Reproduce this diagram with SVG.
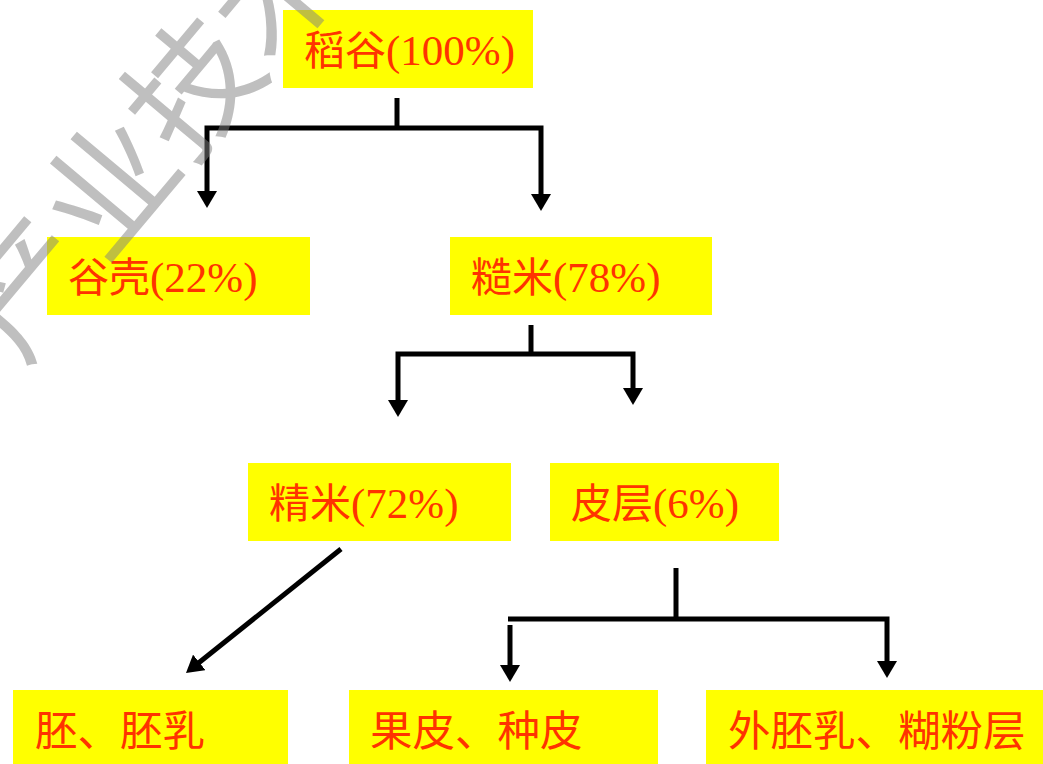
<svg xmlns="http://www.w3.org/2000/svg" width="1043" height="764" viewBox="0 0 1043 764">
  <defs>
    <marker id="ah" markerUnits="userSpaceOnUse" markerWidth="17" markerHeight="20" viewBox="0 0 17 20" refX="7" refY="10" orient="auto-start-reverse">
      <path d="M0,0 L17,10 L0,20 z" fill="#000"/>
    </marker>
    <style>
      .box { fill: #FFFF00; }
      .lbl { fill: #FF3300; font-family: "Noto Sans CJK SC", "Liberation Serif", serif; font-size: 41px; }
      .big { font-size: 42.5px; }
      .lat { font-family: "Liberation Serif", serif; font-size: 43px; }
      .cn { fill: none; stroke: #000; stroke-width: 5; stroke-linejoin: miter; }
      .wm { fill: #808080; fill-opacity: 0.5; font-family: "Noto Sans CJK SC", sans-serif; font-size: 130px; }
    </style>
  </defs>
  <rect width="1043" height="764" fill="#fff"/>

  <g id="connectors">
    <path class="cn" d="M397,98 V128"/>
    <path class="cn" d="M207,198 V128 H541 V201" marker-start="url(#ah)" marker-end="url(#ah)"/>
    <path class="cn" d="M531,325 V354"/>
    <path class="cn" d="M398,407 V354 H633 V395" marker-start="url(#ah)" marker-end="url(#ah)"/>
    <path class="cn" d="M676,568 V619"/>
    <path class="cn" d="M508,619 H887 V668" marker-end="url(#ah)"/>
    <path class="cn" d="M510,625 V672" marker-end="url(#ah)"/>
    <path class="cn" d="M341,549 L193.8,666.8" marker-end="url(#ah)"/>
  </g>

  <g id="n-daogu">
    <rect class="box" x="283" y="10" width="250" height="78"/>
    <text class="lbl" x="304" y="65">稻谷<tspan class="lat">(100%)</tspan></text>
  </g>
  <g id="n-guke">
    <rect class="box" x="47" y="237" width="263" height="78"/>
    <text class="lbl" x="68" y="292">谷壳<tspan class="lat">(22%)</tspan></text>
  </g>
  <g id="n-caomi">
    <rect class="box" x="450" y="237" width="262" height="78"/>
    <text class="lbl" x="471" y="292">糙米<tspan class="lat">(78%)</tspan></text>
  </g>
  <g id="n-jingmi">
    <rect class="box" x="248" y="463" width="263" height="78"/>
    <text class="lbl" x="269" y="518">精米<tspan class="lat">(72%)</tspan></text>
  </g>
  <g id="n-pice">
    <rect class="box" x="550" y="463" width="229" height="78"/>
    <text class="lbl" x="571" y="518">皮层<tspan class="lat">(6%)</tspan></text>
  </g>
  <g id="n-pei">
    <rect class="box" x="13" y="690" width="275" height="74"/>
    <text class="lbl big" x="35" y="746">胚、胚乳</text>
  </g>
  <g id="n-guopi">
    <rect class="box" x="349" y="690" width="309" height="74"/>
    <text class="lbl big" x="370" y="746">果皮、种皮</text>
  </g>
  <g id="n-waipeiru">
    <rect class="box" x="706" y="690" width="337" height="74"/>
    <text class="lbl big" x="728" y="746">外胚乳、糊粉层</text>
  </g>

  <text class="wm" transform="translate(20.4,366.2) rotate(-50)">产业技术</text>
</svg>
